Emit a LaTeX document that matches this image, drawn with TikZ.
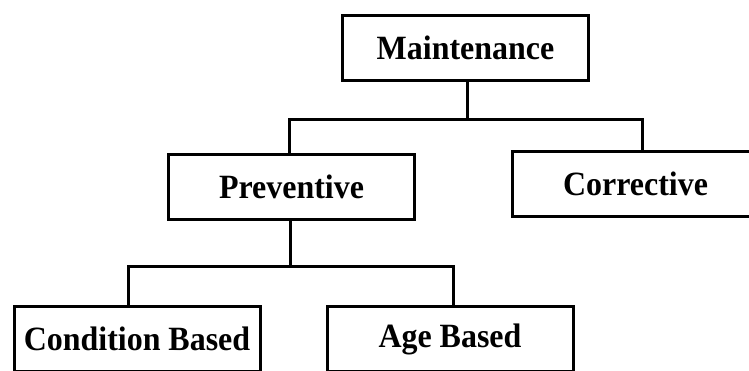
\documentclass[tikz,border=0pt]{standalone}
\usepackage{fontspec}
\setmainfont[FakeStretch=0.94]{Liberation Serif}
\usepackage{tikz}
\usetikzlibrary{positioning}

\begin{document}
\begin{tikzpicture}[x=1pt, y=-1pt, line width=3pt,
    box/.style={rectangle, draw, minimum width=246pt, minimum height=65pt,
        inner sep=0pt, font=\fontsize{34}{40}\selectfont\bfseries}]
    \useasboundingbox (0,0) rectangle (749,371);

    \node[box] (maint) at (465.5,48) {Maintenance};
    \node[box] (prev) at (291.5,187) {Preventive};
    \node[box] (corr) at (635.5,184) {Corrective};
    \node[box] (cond) at (137,339) {Condition Based};
    \node[box] (age) at (450,339) {Age Based};

    \coordinate (split1) at (467,120);
    \coordinate (split2) at (290,266);

    \draw (maint.south -| split1) -- (split1);
    \draw ([xshift=-2pt]prev.north) |- (split1) -| ([xshift=6.5pt]corr.north);
    \draw (prev.south -| split2) -- (split2);
    \draw ([xshift=-9pt]cond.north) |- (split2) -| ([xshift=3pt]age.north);
\end{tikzpicture}
\end{document}
